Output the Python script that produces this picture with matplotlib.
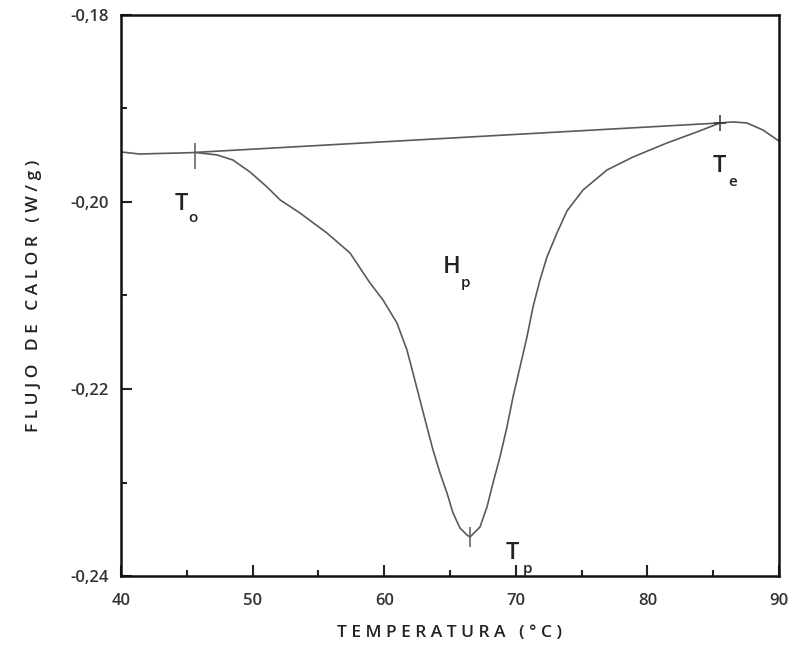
import numpy as np
import matplotlib
matplotlib.use('Agg')
import matplotlib.pyplot as plt
from matplotlib.ticker import MultipleLocator, FuncFormatter

plt.rcParams['font.family'] = ['Open Sans', 'DejaVu Sans']
plt.rcParams['font.weight'] = 'semibold'

# ------------------ datos ------------------
temp = [40.0, 41.4, 43.0, 44.5, 45.6, 46.0, 47.3, 48.5, 49.8, 51.1, 52.1, 53.6,
        55.65, 57.4, 58.92, 59.91, 60.97, 61.73, 62.19, 62.72, 63.25, 63.71, 64.24,
        64.77, 65.23, 65.76, 66.29, 66.52, 67.28, 67.81, 68.27, 68.8, 69.33, 69.79,
        70.32, 70.85, 71.31, 71.84, 72.37, 73.13, 73.89, 75.11, 76.93, 78.91, 81.49,
        83.77, 85.52, 86.5, 87.57, 88.78, 90.0]
flujo = [-0.19465, -0.19487, -0.19481, -0.19476, -0.19471, -0.19476, -0.19497, -0.19551,
         -0.19679, -0.19840, -0.19979, -0.20118, -0.20332, -0.20545, -0.20866, -0.21048,
         -0.21294, -0.21583, -0.21829, -0.22118, -0.22406, -0.22652, -0.22898, -0.23112,
         -0.23326, -0.23487, -0.23561, -0.23583, -0.23476, -0.23262, -0.23005, -0.22727,
         -0.22406, -0.22086, -0.21765, -0.21444, -0.21123, -0.20834, -0.20588, -0.20332,
         -0.20096, -0.19872, -0.19658, -0.19519, -0.19369, -0.19251, -0.19155, -0.19144,
         -0.19155, -0.19230, -0.19348]

# linea base entre To y Te
base_t = [45.6, 85.5]
base_f = [-0.1947, -0.19155]

# puntos caracteristicos
t_on, f_on = 45.6, -0.19513
t_end, f_end = 85.5, -0.19155
t_pk, f_pk = 66.5, -0.23583

fig = plt.figure(figsize=(7.9, 6.48), dpi=100)
ax = fig.add_axes([0.1532, 0.1111, 0.8328, 0.8658])

gris = '#5a5a5a'
ax.plot(temp, flujo, color=gris, lw=1.2)
ax.plot(base_t, base_f, color=gris, lw=1.2)

ax.plot([t_on], [f_on], marker='|', ms=19, mew=1.1, color=gris)
ax.plot([t_end], [f_end], marker='|', ms=12, mew=1.1, color='#333333')
ax.plot([t_end], [f_end], marker='_', ms=8, mew=1.1, color='#333333')
ax.plot([t_pk], [f_pk], marker='|', ms=15, mew=1.1, color=gris)

# etiquetas T_o, T_e, H_p, T_p
def etiqueta(x, y, letra, sub, dx, dy):
    ax.text(x, y, letra, fontsize=17, color='#222222', ha='center', va='center')
    ax.annotate(sub, (x, y), xytext=(dx, dy), textcoords='offset points',
                fontsize=11, color='#222222', ha='center', va='center')

etiqueta(44.6, -0.2002, 'T', 'o', 8, -10)
etiqueta(85.5, -0.1962, 'T', 'e', 9, -11)
etiqueta(65.1, -0.2070, 'H', 'p', 10, -11)
etiqueta(69.7, -0.2375, 'T', 'p', 11, -12)

ax.set_xlim(40, 90)
ax.set_ylim(-0.24, -0.18)
ax.xaxis.set_major_locator(MultipleLocator(10))
ax.xaxis.set_minor_locator(MultipleLocator(5))
ax.yaxis.set_major_locator(MultipleLocator(0.02))
ax.yaxis.set_minor_locator(MultipleLocator(0.01))
ax.yaxis.set_major_formatter(FuncFormatter(lambda v, p: f'{v:.2f}'.replace('.', ',')))

ax.tick_params(which='both', direction='in', top=False, right=False,
               labelsize=12, labelcolor='#333333', width=1.5, color='#222222')
ax.tick_params(which='major', length=8)
ax.tick_params(which='minor', length=4.5)
ax.tick_params(axis='y', pad=9)
ax.tick_params(axis='x', pad=12)

for s in ax.spines.values():
    s.set_linewidth(1.8)
    s.set_color('#111111')

ax.set_xlabel('T E M P E R A T U R A   ( ° C )', fontsize=12.5, fontweight='semibold',
              color='#222222', labelpad=12)
ax.set_ylabel('F L U J O   D E   C A L O R   ( W / g )', fontsize=12.5, fontweight='semibold',
              color='#222222', labelpad=20)

fig.savefig('out.png', dpi=100)
